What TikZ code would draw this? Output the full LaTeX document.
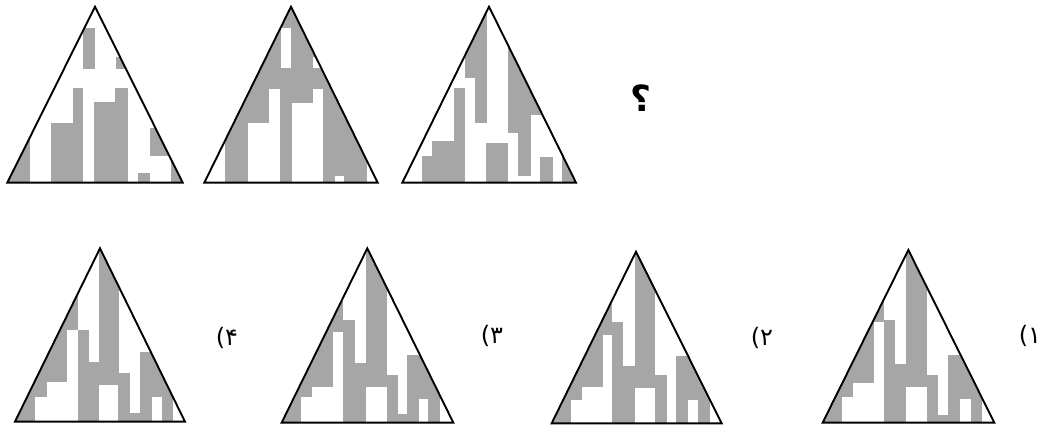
\documentclass[tikz,border=0pt]{standalone}
\usepackage{fontspec}
\newfontfamily\fa{DejaVu Sans}
\newfontfamily\fab{DejaVu Sans Bold}
\definecolor{shade}{RGB}{166,166,166}
\tikzset{
  tri/.style={draw=black, line width=1.9pt, line join=miter},
  blk/.style={fill=shade},
  wht/.style={fill=white},
  lbl/.style={font=\fa\fontsize{24}{24}\selectfont, inner sep=0pt}
}
\begin{document}
\begin{tikzpicture}[x=1pt,y=-1pt]
\useasboundingbox[fill=white] (0,0) rectangle (1043,425);

% ---------- Top row, triangle 1 ----------
\begin{scope}[shift={(0,0)}, x=0.3333pt, y=-0.3333pt]
  \coordinate (t1a) at (285,20); \coordinate (t1l) at (22,548); \coordinate (t1r) at (548,548);
  \begin{scope}
    \clip (t1a) -- (t1l) -- (t1r) -- cycle;
    \fill[blk] (248,85) rectangle (285,207);
    \fill[blk] (348,170) rectangle (700,207);
    \fill[blk] (0,0) rectangle (90,600);
    \fill[blk] (152,368) rectangle (250,600);
    \fill[blk] (218,265) rectangle (250,368);
    \fill[blk] (283,307) rectangle (385,600);
    \fill[blk] (345,265) rectangle (385,307);
    \fill[blk] (450,385) rectangle (700,468);
    \fill[blk] (415,518) rectangle (450,600);
    \fill[blk] (512,0) rectangle (700,600);
  \end{scope}
  \draw[tri] (t1a) -- (t1l) -- (t1r) -- cycle;
\end{scope}

% ---------- Top row, triangle 2 ----------
\begin{scope}[shift={(195,0)}, x=0.3333pt, y=-0.3333pt]
  \coordinate (t2a) at (288,20); \coordinate (t2l) at (28,548); \coordinate (t2r) at (548,548);
  \begin{scope}
    \clip (t2a) -- (t2l) -- (t2r) -- cycle;
    \fill[blk] (0,0) rectangle (700,600);
    \fill[wht] (258,85) rectangle (288,205);
    \fill[wht] (355,170) rectangle (700,205);
    \fill[wht] (0,0) rectangle (90,600);
    \fill[wht] (158,370) rectangle (255,600);
    \fill[wht] (222,268) rectangle (255,370);
    \fill[wht] (290,310) rectangle (385,600);
    \fill[wht] (355,268) rectangle (385,310);
    \fill[wht] (420,528) rectangle (448,600);
    \fill[wht] (515,0) rectangle (700,600);
  \end{scope}
  \draw[tri] (t2a) -- (t2l) -- (t2r) -- cycle;
\end{scope}

% ---------- Top row, triangle 3 ----------
\begin{scope}[shift={(395,0)}, x=0.3333pt, y=-0.3333pt]
  \coordinate (t3a) at (282,20); \coordinate (t3l) at (22,548); \coordinate (t3r) at (543,548);
  \begin{scope}
    \clip (t3a) -- (t3l) -- (t3r) -- cycle;
    \fill[blk] (210,0) rectangle (275,235);
    \fill[blk] (240,235) rectangle (275,368);
    \fill[blk] (178,265) rectangle (210,600);
    \fill[blk] (110,422) rectangle (178,600);
    \fill[blk] (80,468) rectangle (110,600);
    \fill[blk] (272,430) rectangle (340,600);
    \fill[blk] (338,0) rectangle (700,345);
    \fill[blk] (338,345) rectangle (408,400);
    \fill[blk] (368,400) rectangle (408,528);
    \fill[blk] (435,472) rectangle (475,600);
    \fill[blk] (502,0) rectangle (700,600);
  \end{scope}
  \draw[tri] (t3a) -- (t3l) -- (t3r) -- cycle;
\end{scope}

\node[font=\fab\fontsize{36}{36}\selectfont, inner sep=0pt] (q) at (641,98) {؟};

% ---------- Option 4 ----------
\begin{scope}[shift={(0,240)}, x=0.3333pt, y=-0.3333pt]
  \coordinate (o4a) at (300,25); \coordinate (o4l) at (45,545); \coordinate (o4r) at (555,545);
  \begin{scope}
    \clip (o4a) -- (o4l) -- (o4r) -- cycle;
    \fill[blk] (0,0) rectangle (235,270);
    \fill[blk] (0,270) rectangle (200,425);
    \fill[blk] (0,425) rectangle (140,470);
    \fill[blk] (0,470) rectangle (105,600);
    \fill[blk] (235,270) rectangle (268,600);
    \fill[blk] (268,365) rectangle (298,600);
    \fill[blk] (298,0) rectangle (358,435);
    \fill[blk] (355,400) rectangle (390,600);
    \fill[blk] (390,520) rectangle (420,600);
    \fill[blk] (420,335) rectangle (700,470);
    \fill[blk] (420,470) rectangle (455,600);
    \fill[blk] (485,470) rectangle (518,600);
  \end{scope}
  \draw[tri] (o4a) -- (o4l) -- (o4r) -- cycle;
\end{scope}
\node[lbl] (l4) at (227,338) {(۴};

% ---------- Option 3 ----------
\begin{scope}[shift={(270,240)}, x=0.3333pt, y=-0.3333pt]
  \coordinate (o3a) at (292,25); \coordinate (o3l) at (35,548); \coordinate (o3r) at (550,548);
  \begin{scope}
    \clip (o3a) -- (o3l) -- (o3r) -- cycle;
    \fill[blk] (0,0) rectangle (218,275);
    \fill[blk] (0,275) rectangle (190,440);
    \fill[blk] (0,440) rectangle (125,470);
    \fill[blk] (0,470) rectangle (92,600);
    \fill[blk] (218,240) rectangle (255,600);
    \fill[blk] (255,370) rectangle (288,600);
    \fill[blk] (288,0) rectangle (350,440);
    \fill[blk] (350,405) rectangle (383,600);
    \fill[blk] (383,522) rectangle (412,600);
    \fill[blk] (412,345) rectangle (700,478);
    \fill[blk] (412,478) rectangle (448,600);
    \fill[blk] (475,478) rectangle (510,600);
  \end{scope}
  \draw[tri] (o3a) -- (o3l) -- (o3r) -- cycle;
\end{scope}
\node[lbl] (l3) at (492,336) {(۳};

% ---------- Option 2 ----------
\begin{scope}[shift={(540,240)}, x=0.3333pt, y=-0.3333pt]
  \coordinate (o2a) at (288,35); \coordinate (o2l) at (35,550); \coordinate (o2r) at (545,550);
  \begin{scope}
    \clip (o2a) -- (o2l) -- (o2r) -- cycle;
    \fill[blk] (0,0) rectangle (215,285);
    \fill[blk] (0,285) rectangle (188,440);
    \fill[blk] (0,440) rectangle (125,480);
    \fill[blk] (0,480) rectangle (92,600);
    \fill[blk] (215,245) rectangle (250,600);
    \fill[blk] (250,378) rectangle (285,600);
    \fill[blk] (285,0) rectangle (345,445);
    \fill[blk] (345,405) rectangle (380,600);
    \fill[blk] (408,348) rectangle (700,480);
    \fill[blk] (408,480) rectangle (445,600);
    \fill[blk] (475,480) rectangle (510,600);
  \end{scope}
  \draw[tri] (o2a) -- (o2l) -- (o2r) -- cycle;
\end{scope}
\node[lbl] (l2) at (762,338) {(۲};

% ---------- Option 1 ----------
\begin{scope}[shift={(800,240)}, x=0.3333pt, y=-0.3333pt]
  \coordinate (o1a) at (325,30); \coordinate (o1l) at (68,548); \coordinate (o1r) at (583,548);
  \begin{scope}
    \clip (o1a) -- (o1l) -- (o1r) -- cycle;
    \fill[blk] (0,0) rectangle (253,245);
    \fill[blk] (0,245) rectangle (222,430);
    \fill[blk] (0,430) rectangle (160,470);
    \fill[blk] (0,470) rectangle (125,600);
    \fill[blk] (253,240) rectangle (285,600);
    \fill[blk] (285,372) rectangle (318,600);
    \fill[blk] (318,0) rectangle (382,440);
    \fill[blk] (382,405) rectangle (415,600);
    \fill[blk] (415,525) rectangle (445,600);
    \fill[blk] (445,345) rectangle (700,478);
    \fill[blk] (445,478) rectangle (480,600);
    \fill[blk] (512,478) rectangle (545,600);
  \end{scope}
  \draw[tri] (o1a) -- (o1l) -- (o1r) -- cycle;
\end{scope}
\node[lbl] (l1) at (1030,336) {(۱};

\end{tikzpicture}
\end{document}
